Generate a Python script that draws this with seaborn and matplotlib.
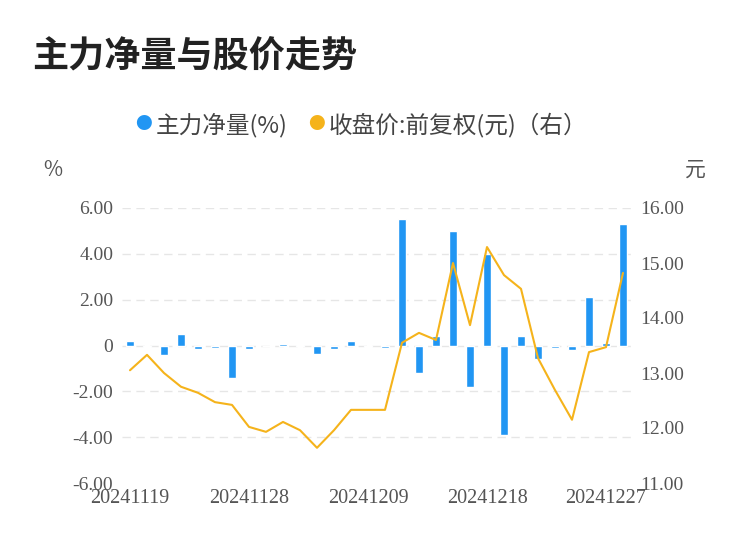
import matplotlib
matplotlib.use("Agg")
import matplotlib.pyplot as plt
import seaborn as sns
import pandas as pd

dates = ["20241119","20241120","20241121","20241122","20241125","20241126","20241127","20241128","20241129",
         "20241202","20241203","20241204","20241205","20241206","20241209","20241210","20241211","20241212","20241213",
         "20241216","20241217","20241218","20241219","20241220","20241223","20241224","20241225","20241226","20241227","20241230"]
net_flow = [0.2,-0.05,-0.4,0.5,-0.15,-0.1,-1.4,-0.15,0.0,0.05,0.03,-0.35,-0.15,0.2,-0.05,-0.1,
            5.5,-1.2,0.4,5.0,-1.8,4.0,-3.9,0.4,-0.6,-0.1,-0.2,2.1,0.1,5.3]
price = [13.05,13.33,13.0,12.75,12.64,12.47,12.42,12.02,11.93,12.11,11.96,11.64,11.96,12.33,12.33,12.33,
         13.55,13.73,13.6,15.0,13.87,15.29,14.78,14.53,13.27,12.69,12.15,13.38,13.47,14.82]
tick_idx = [0,7,14,21,28]
left_ticks = [-6,-4,-2,0,2,4,6]
right_ticks = [11,12,13,14,15,16]

sns.set_theme(style="white")
plt.rcParams['font.family'] = ['Noto Sans CJK SC', 'DejaVu Sans']

df = pd.DataFrame({"x": list(range(len(dates))), "flow": net_flow, "price": price})
fig = plt.figure(figsize=(7.5, 5.58), dpi=100)
ax = fig.add_axes([121.5/750, 1-483/558, 510/750, 275/558])
sns.barplot(data=df, x="x", y="flow", color="#2196F3", width=0.42, saturation=1, ax=ax)
ax.set_ylim(-6, 6)
ax.set_xlim(-0.5, 29.5)
ax.set_yticks(left_ticks)
ax.set_yticklabels([("0" if v == 0 else f"{v:.2f}") for v in left_ticks],
                   fontsize=14, color="#555555", family="Liberation Serif")
ax.set_xticks(tick_idx)
ax.set_xticklabels([dates[i] for i in tick_idx], fontsize=14.5, color="#555555", family="Liberation Serif")
for y in left_ticks[1:]:
    ax.axhline(y, color="#e6e6e6", lw=1, ls=(0, (6, 4)), zorder=0)
ax.set_xlabel(""); ax.set_ylabel("")
for s in ax.spines.values():
    s.set_visible(False)
ax.tick_params(axis="y", length=0, pad=6)
ax.tick_params(axis="x", length=0, pad=4)

ax2 = ax.twinx()
sns.lineplot(data=df, x="x", y="price", color="#F5B31B", lw=1.5, ax=ax2)
ax2.set_ylim(11, 16)
ax2.set_xlim(-0.5, 29.5)
ax2.set_yticks(right_ticks)
ax2.set_yticklabels([f"{v:.2f}" for v in right_ticks], fontsize=14, color="#555555", family="Liberation Serif")
ax2.set_ylabel("")
for s in ax2.spines.values():
    s.set_visible(False)
ax2.tick_params(length=0, pad=6)

fig.text(32/750, 1-57/558, "主力净量与股价走势", fontsize=26, fontweight="bold", color="#222222", va="center")
fig.text(43/750, 1-170/558, "%", fontsize=15, color="#555555", va="center")
fig.text(685/750, 1-170/558, "元", fontsize=15, color="#555555", va="center")
fig.text(143/750, 1-125/558, "●", fontsize=12, color="#2196F3", va="center", ha="center")
fig.text(156/750, 1-125/558, "主力净量(%)", fontsize=17, color="#444444", va="center")
fig.text(316/750, 1-125/558, "●", fontsize=12, color="#F5B31B", va="center", ha="center")
fig.text(329/750, 1-125/558, "收盘价:前复权(元)（右）", fontsize=17, color="#444444", va="center")

fig.savefig("out.png", dpi=100)
